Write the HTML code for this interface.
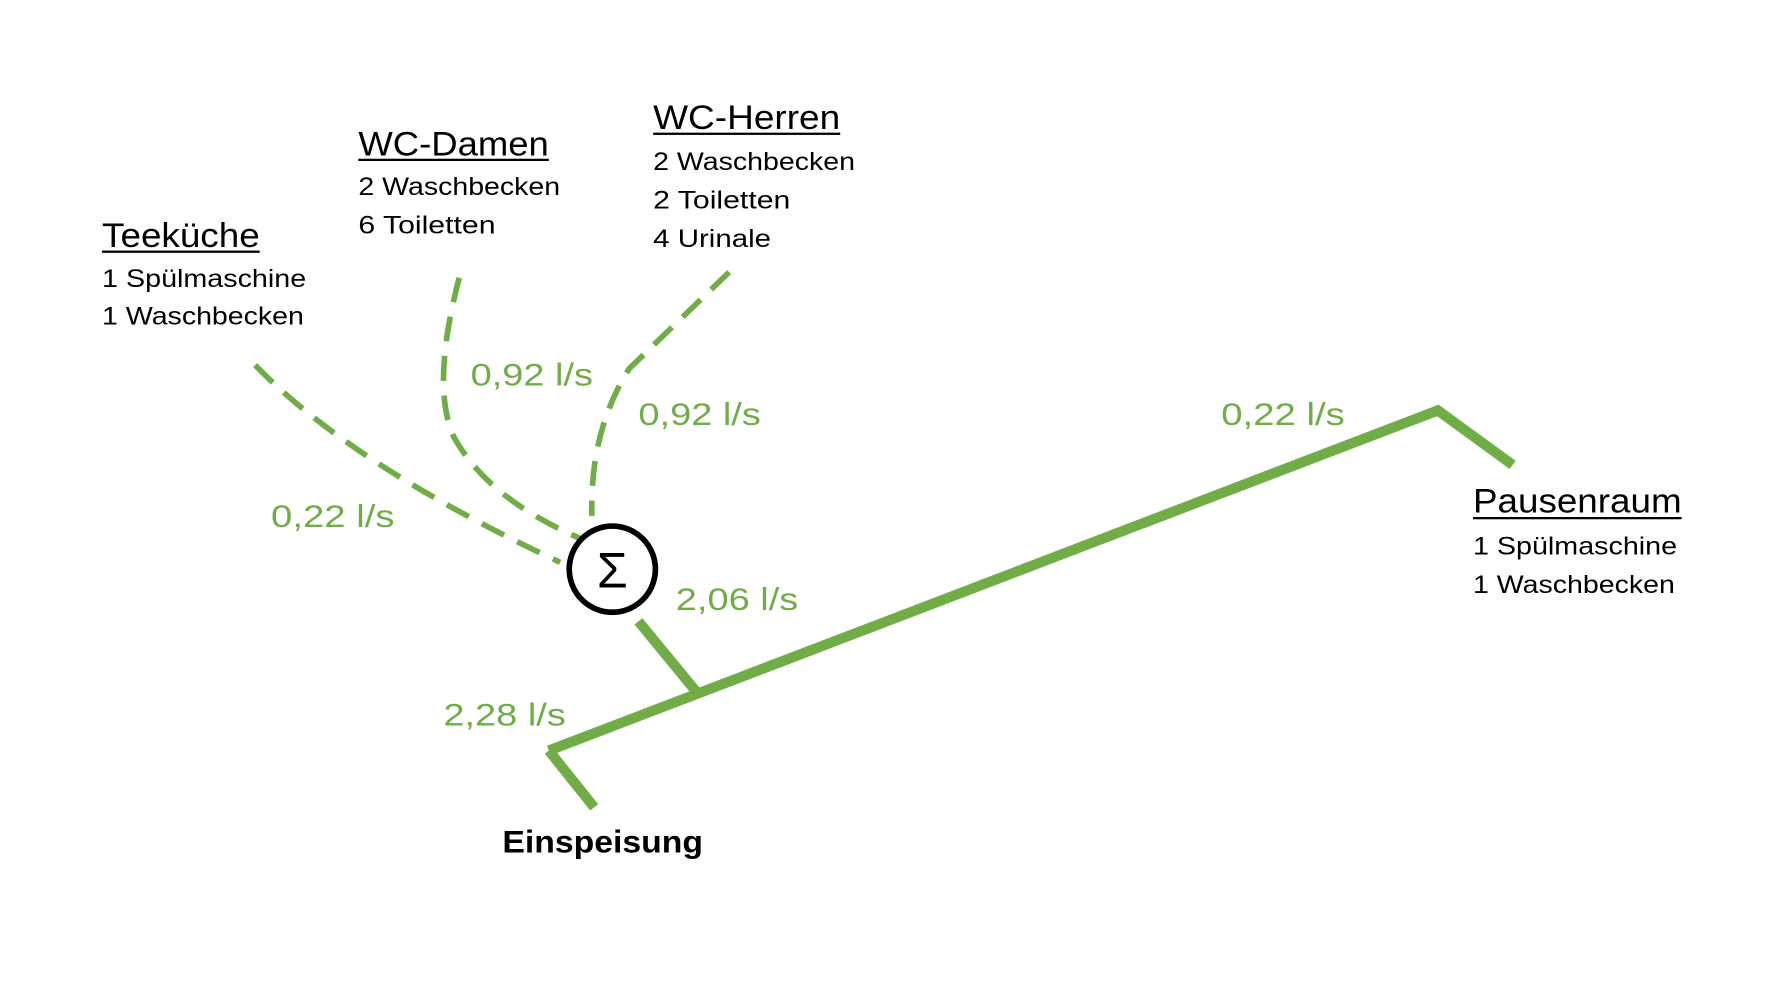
<!DOCTYPE html>
<html><head><meta charset="utf-8"><style>
html,body{margin:0;padding:0;background:#fff;}
svg{display:block}
text{font-family:"Liberation Sans",sans-serif;}
</style></head><body>
<svg width="1778" height="1000" viewBox="0 0 1568 882" preserveAspectRatio="none">
<g fill="none" stroke="#70AD47" stroke-linecap="butt">
<polyline points="484,662 1268,362 1334,410" stroke-width="9"/>
<line x1="484" y1="662" x2="524" y2="712" stroke-width="9"/>
<line x1="563" y1="548" x2="614" y2="610" stroke-width="9"/>
<g stroke-width="5" stroke-dasharray="22,13">
<path d="M225,322 Q310,410 494,496"/>
<path d="M405,245 Q380,340 400,385 Q430,440 512,475"/>
<path d="M643,240 L555,325 Q520,380 522,455"/>
</g>
</g>
<circle cx="540" cy="502" r="38" fill="#fff" stroke="#000" stroke-width="5"/>
<text x="540" y="518" font-size="44" text-anchor="middle" fill="#000">Σ</text>
<g fill="#000">
<text x="90" y="218" font-size="30" textLength="139" lengthAdjust="spacingAndGlyphs">Teeküche</text>
<rect x="90" y="221" width="139" height="2"/>
<text x="90" y="253" font-size="22" textLength="180" lengthAdjust="spacingAndGlyphs">1 Spülmaschine</text>
<text x="90" y="286" font-size="22" textLength="178" lengthAdjust="spacingAndGlyphs">1 Waschbecken</text>
<text x="316" y="137" font-size="30" textLength="168" lengthAdjust="spacingAndGlyphs">WC-Damen</text>
<rect x="316" y="140" width="168" height="2"/>
<text x="316" y="172" font-size="22" textLength="178" lengthAdjust="spacingAndGlyphs">2 Waschbecken</text>
<text x="316" y="206" font-size="22" textLength="121" lengthAdjust="spacingAndGlyphs">6 Toiletten</text>
<text x="576" y="114" font-size="30" textLength="165" lengthAdjust="spacingAndGlyphs">WC-Herren</text>
<rect x="576" y="117" width="165" height="2"/>
<text x="576" y="150" font-size="22" textLength="178" lengthAdjust="spacingAndGlyphs">2 Waschbecken</text>
<text x="576" y="184" font-size="22" textLength="121" lengthAdjust="spacingAndGlyphs">2 Toiletten</text>
<text x="576" y="218" font-size="22" textLength="104" lengthAdjust="spacingAndGlyphs">4 Urinale</text>
<text x="1299" y="452" font-size="30" textLength="184" lengthAdjust="spacingAndGlyphs">Pausenraum</text>
<rect x="1299" y="456" width="184" height="2"/>
<text x="1299" y="489" font-size="22" textLength="180" lengthAdjust="spacingAndGlyphs">1 Spülmaschine</text>
<text x="1299" y="523" font-size="22" textLength="178" lengthAdjust="spacingAndGlyphs">1 Waschbecken</text>
<text x="443" y="752" font-size="28" font-weight="bold" textLength="177" lengthAdjust="spacingAndGlyphs">Einspeisung</text>
</g>
<g fill="#70AD47" font-size="28">
<text x="415" y="340" textLength="108" lengthAdjust="spacingAndGlyphs">0,92 l/s</text>
<text x="563" y="375" textLength="108" lengthAdjust="spacingAndGlyphs">0,92 l/s</text>
<text x="1077" y="375" textLength="109" lengthAdjust="spacingAndGlyphs">0,22 l/s</text>
<text x="239" y="465" textLength="109" lengthAdjust="spacingAndGlyphs">0,22 l/s</text>
<text x="596" y="538" textLength="108" lengthAdjust="spacingAndGlyphs">2,06 l/s</text>
<text x="391" y="640" textLength="108" lengthAdjust="spacingAndGlyphs">2,28 l/s</text>
</g>
</svg>
</body></html>
